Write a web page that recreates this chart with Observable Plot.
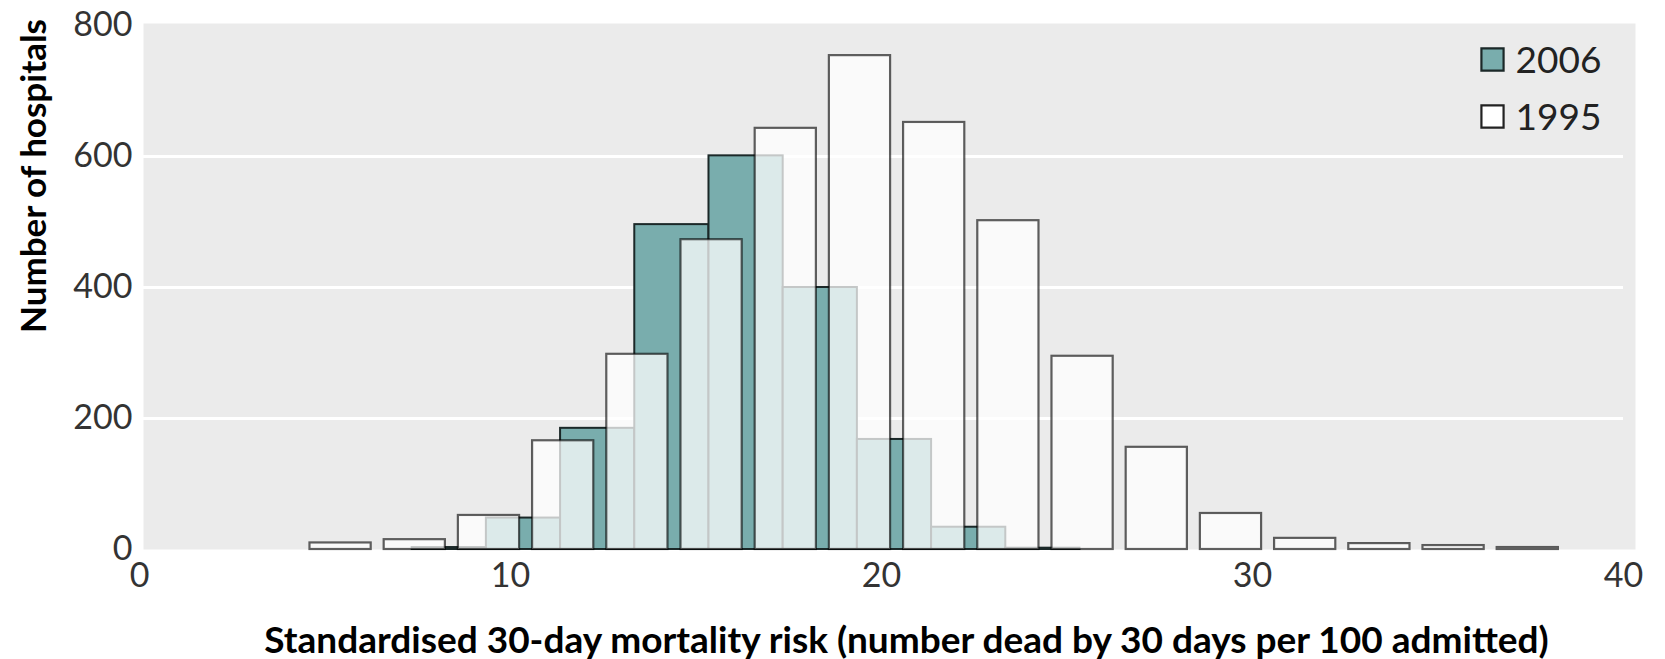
<!DOCTYPE html>
<html>
<head>
<meta charset="utf-8">
<script src="https://cdn.jsdelivr.net/npm/d3@7"></script>
<script src="https://cdn.jsdelivr.net/npm/@observablehq/plot@0.6"></script>
<style>
  html, body { margin: 0; padding: 0; background: #fff; }
  #chart { position: relative; width: 1665px; height: 659px; }
  #ytitle {
    position: absolute; left: 32px; top: 176px;
    transform: translate(-50%, -50%) rotate(-90deg);
    white-space: nowrap; font-family: Lato, 'Open Sans', sans-serif;
    font-weight: bold; font-size: 35px; color: #000; line-height: 1;
  }
</style>
</head>
<body>
<div id="chart"><div id="ytitle"></div></div>
<script>
// --- data ---
const binWidth = 2;
const start2006 = [7.35, 9.35, 11.35, 13.35, 15.35, 17.35, 19.35, 21.35, 23.35];
const count2006 = [3, 48, 185, 496, 601, 400, 168, 34, 2];
const start1995 = [4.42, 6.42, 8.42, 10.42, 12.42, 14.42, 16.42, 18.42, 20.42, 22.42, 24.42, 26.42, 28.42, 30.42, 32.42, 34.42, 36.42];
const count1995 = [10, 15, 52, 166, 298, 473, 643, 754, 652, 502, 295, 156, 55, 17, 9, 6, 3];
const xTicks = [0, 10, 20, 30, 40];
const yTicks = [0, 200, 400, 600, 800];
const gridTicks = [200, 400, 600];
const legendLabels = ["2006", "1995"];
const xTitle = "Standardised 30-day mortality risk (number dead by 30 days per 100 admitted)";
const yTitle = "Number of hospitals";

const bars2006 = start2006.map((s, i) => ({x1: s, x2: s + binWidth, y: count2006[i]}));
const bars1995 = start1995.map((s, i) => ({x1: s, x2: s + binWidth, y: count1995[i]}));

const teal = "#79adad";
const tealStroke = "#1b2828";
const font = "Lato, 'Open Sans', sans-serif";

document.getElementById("ytitle").textContent = yTitle;

const legendMarks = legendLabels.flatMap((lab, i) => [
  Plot.dot([lab], {
    frameAnchor: "top-right", dx: -131, dy: 34 + i * 57,
    symbol: "square", r: 12.5,
    fill: i === 0 ? teal : "#ffffff",
    stroke: i === 0 ? tealStroke : "#222", strokeWidth: 2.2
  }),
  Plot.text([lab], {
    frameAnchor: "top-right", dx: -108, dy: 36 + i * 57,
    text: d => d, textAnchor: "start", lineAnchor: "middle",
    fontSize: 37, fill: "#222", fontFamily: font
  })
]);

const chart = Plot.plot({
  width: 1665,
  height: 659,
  marginLeft: 139,
  marginRight: 42,
  marginTop: 25,
  marginBottom: 110,
  style: {fontFamily: font, background: "#ffffff", overflow: "visible"},
  x: {domain: [0, 40]},
  y: {domain: [0, 800]},
  marks: [
    Plot.frame({fill: "#ebebeb", stroke: null, insetLeft: 4, insetRight: -12, insetTop: -2}),
    Plot.gridY(gridTicks, {stroke: "#ffffff", strokeOpacity: 1, strokeWidth: 3}),
    Plot.rectY(bars2006, {x1: "x1", x2: "x2", y: "y", fill: teal, stroke: tealStroke, strokeWidth: 2}),
    Plot.rectY(bars1995, {x1: "x1", x2: "x2", y: "y", insetLeft: 6.5, insetRight: 6.5,
      fill: "#ffffff", fillOpacity: 0.74, stroke: "#000", strokeOpacity: 0.62, strokeWidth: 2.2}),
    Plot.axisY(yTicks, {tickSize: 0, tickPadding: 7, fontSize: 34, fill: "#333", label: null}),
    Plot.axisX(xTicks, {tickSize: 0, tickPadding: 13, fontSize: 34, fill: "#333", label: null}),
    Plot.text([xTitle], {frameAnchor: "bottom", dx: 25, dy: 92,
      text: d => d, fontSize: 37, fontWeight: "bold", fill: "#000", lineAnchor: "middle"}),
    ...legendMarks
  ]
});
document.getElementById("chart").appendChild(chart);
</script>
</body>
</html>
